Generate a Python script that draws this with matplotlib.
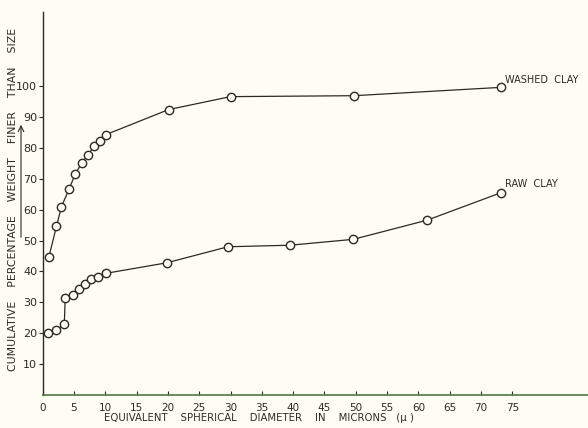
import numpy as np
import matplotlib.pyplot as plt

# washed clay
washed_x = [1.0, 2.2, 3.0, 4.2, 5.2, 6.2, 7.25, 8.2, 9.2, 10.1, 20.1, 30.0, 49.7, 73.2]
washed_y = [44.8, 54.6, 61.0, 66.6, 71.5, 75.0, 77.8, 80.5, 82.3, 84.3, 92.4, 96.6, 96.9, 99.6]

# raw clay
raw_x = [0.8, 2.1, 3.45, 3.6, 4.8, 5.8, 6.8, 7.7, 8.9, 10.1, 19.8, 29.6, 39.5, 49.6, 61.4, 73.2]
raw_y = [20.0, 21.0, 22.9, 31.5, 32.4, 34.2, 36.1, 37.5, 38.1, 39.4, 42.8, 48.0, 48.5, 50.4, 56.6, 65.5]

xticks = list(range(0, 80, 5))
yticks = list(range(10, 110, 10))

ink = '#2b2b24'
fig = plt.figure(figsize=(5.88, 4.28), dpi=100)
fig.patch.set_facecolor('#fdfdf6')
ax = fig.add_axes([0.0726, 0.077, 0.9274, 0.895])
ax.set_facecolor('#fdfdf6')

for xs, ys in [(washed_x, washed_y), (raw_x, raw_y)]:
    ax.plot(xs, ys, color=ink, lw=0.9, marker='o', ms=6,
            mfc='#fdfdf6', mec=ink, mew=1.0)

ax.annotate('WASHED  CLAY', xy=(washed_x[-1], washed_y[-1]), xytext=(3, 2),
            textcoords='offset points', fontsize=7, color=ink, va='bottom')
ax.annotate('RAW  CLAY', xy=(raw_x[-1], raw_y[-1]), xytext=(3, 3),
            textcoords='offset points', fontsize=7, color=ink, va='bottom')

ax.set_xlim(0, 87.1)
ax.set_ylim(0, 124)
ax.set_xticks(xticks)
ax.set_xticklabels([str(t) for t in xticks], fontsize=7.5, color=ink)
ax.set_yticks(yticks)
ax.set_yticklabels([str(t) for t in yticks], fontsize=8, color=ink)
ax.tick_params(axis='x', direction='in', length=3, pad=6, color=ink)
ax.tick_params(axis='y', direction='out', length=3, pad=1, color=ink)

ax.spines['top'].set_visible(False)
ax.spines['right'].set_visible(False)
ax.spines['left'].set_color(ink)
ax.spines['bottom'].set_color('#4f7a3c')
ax.spines['left'].set_linewidth(1.0)
ax.spines['bottom'].set_linewidth(1.2)

fig.text(0.44, 0.024, 'EQUIVALENT    SPHERICAL    DIAMETER    IN    MICRONS   (\u03bc )',
         fontsize=7.3, color=ink, ha='center', va='center')
fig.text(0.022, 0.535, 'CUMULATIVE    PERCENTAGE    WEIGHT    FINER    THAN    SIZE',
         fontsize=7.8, color=ink, ha='center', va='center', rotation=90)
ax.annotate('', xy=(21, 306), xytext=(21, 188), xycoords='figure pixels',
            textcoords='figure pixels',
            arrowprops=dict(arrowstyle='->', color=ink, lw=0.8))

plt.savefig('out.png', dpi=100, facecolor=fig.get_facecolor())
